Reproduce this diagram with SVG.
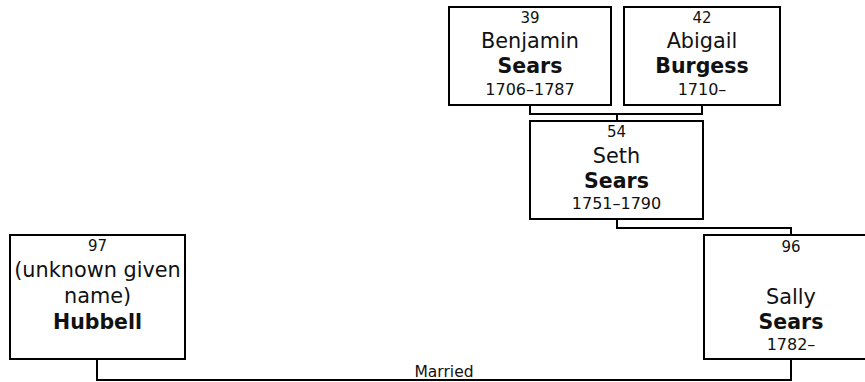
<svg xmlns="http://www.w3.org/2000/svg" width="865" height="382" viewBox="0 0 865 382">
<style>
.box{fill:#fff;stroke:#000;stroke-width:2}
.con{fill:none;stroke:#000;stroke-width:2}
text{font-family:"DejaVu Sans",Verdana,sans-serif;fill:#111;text-anchor:middle}
.num{font-size:15px}
.nm{font-size:20.8px}
.sn{font-size:20.5px;font-weight:bold}
.dt{font-size:16px}
.lbl{font-size:15.5px}
</style>
<rect width="865" height="382" fill="#fff"/>
<g id="connectors">
<polyline class="con" points="530,105 530,114 702,114 702,105"/>
<polyline class="con" points="617,114 617,121"/>
<polyline class="con" points="617,219 617,228 791,228 791,235"/>
<polyline class="con" points="97,359 97,380 791,380 791,359"/>
<text class="lbl" x="444" y="377">Married</text>
</g>
<g id="n39">
<rect class="box" x="449" y="7" width="162" height="98"/>
<text class="num" x="530" y="23">39</text>
<text class="nm" x="530" y="48">Benjamin</text>
<text class="sn" x="530" y="73">Sears</text>
<text class="dt" x="530" y="95">1706–1787</text>
</g>
<g id="n42">
<rect class="box" x="624" y="7" width="156" height="98"/>
<text class="num" x="702" y="23">42</text>
<text class="nm" x="702" y="48">Abigail</text>
<text class="sn" x="702" y="73">Burgess</text>
<text class="dt" x="702" y="95">1710–</text>
</g>
<g id="n54">
<rect class="box" x="530" y="121" width="173" height="98"/>
<text class="num" x="616.5" y="137">54</text>
<text class="nm" x="616.5" y="162.5">Seth</text>
<text class="sn" x="616.5" y="188">Sears</text>
<text class="dt" x="616.5" y="209">1751–1790</text>
</g>
<g id="n97">
<rect class="box" x="10" y="235" width="175" height="124"/>
<text class="num" x="97.5" y="251">97</text>
<text class="nm" x="97.5" y="277">(unknown given</text>
<text class="nm" x="97.5" y="303">name)</text>
<text class="sn" x="97.5" y="329">Hubbell</text>
</g>
<g id="n96">
<rect class="box" x="704" y="235" width="175" height="124"/>
<text class="num" x="791" y="252">96</text>
<text class="nm" x="791" y="304">Sally</text>
<text class="sn" x="791" y="328.5">Sears</text>
<text class="dt" x="791" y="349.5">1782–</text>
</g>
</svg>
